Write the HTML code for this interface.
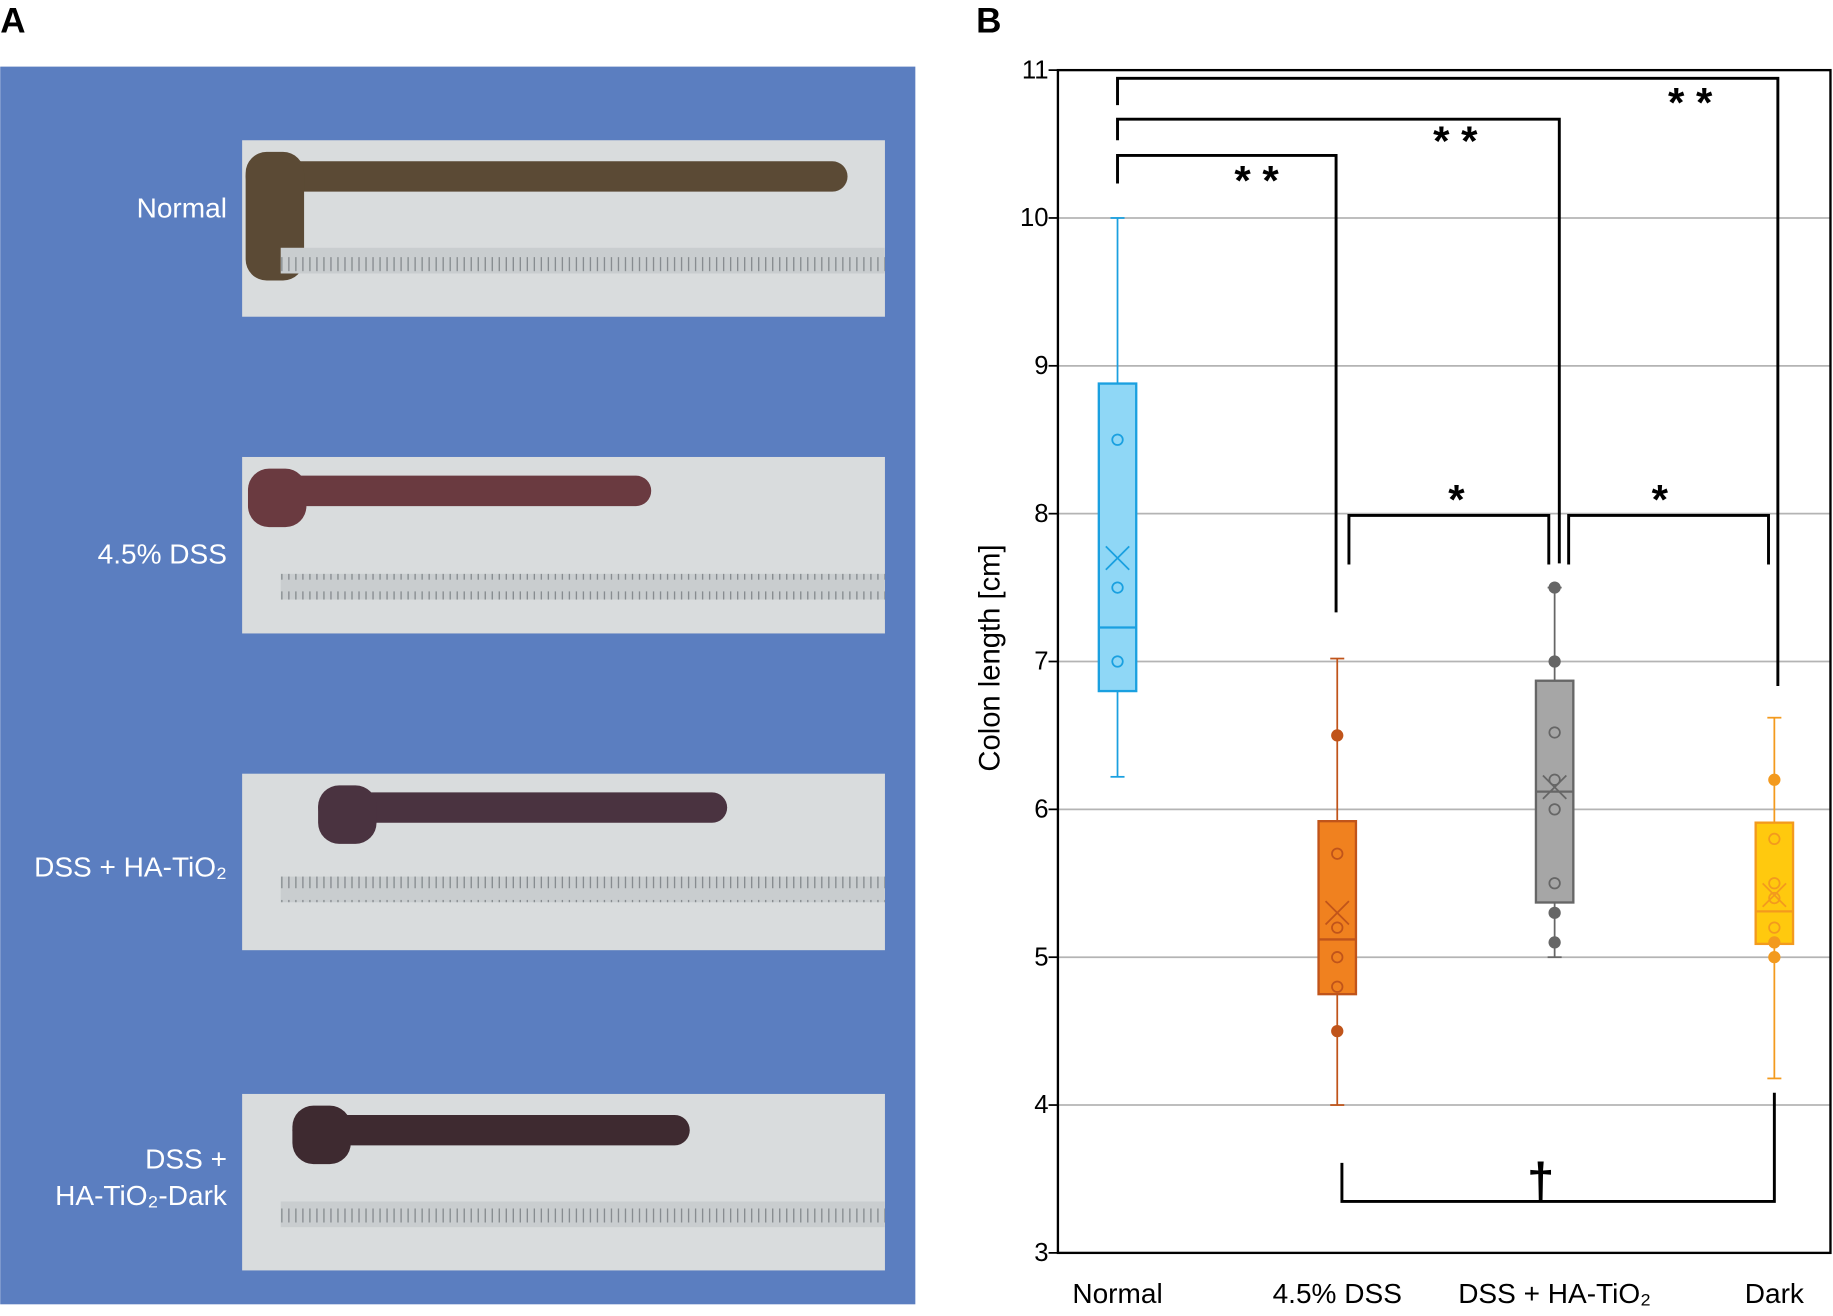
<!DOCTYPE html>
<html><head><meta charset="utf-8"><style>
html,body{margin:0;padding:0;background:#fff}
svg{display:block}
text{font-family:"Liberation Sans",sans-serif}
</style></head><body>
<svg id="fig" width="1833" height="1316" viewBox="0 0 1568 1126">
<defs>
<pattern id="ticks" width="6" height="22" patternUnits="userSpaceOnUse"><rect width="6" height="22" fill="#c9cdcf"/><line x1="1" y1="0" x2="1" y2="12" stroke="#7d8286" stroke-width="1"/></pattern>
</defs>
<text x="0" y="28" font-size="30" font-weight="bold">A</text>
<text x="835" y="28" font-size="30" font-weight="bold">B</text>
<g>
<rect x="0" y="57" width="783" height="1059" fill="#5b7ec0"/>
<g id="photos"></g>
</g>
<g id="chart"></g>
</svg>
<script>
const categories=["Normal","4.5% DSS","DSS + HA-TiO2","Dark"];
const whiskerLow=[6.22,4.0,5.0,4.18];
const whiskerHigh=[10.0,7.02,7.5,6.62];
const q1=[6.8,4.75,5.37,5.09];
const q3=[8.88,5.92,6.87,5.91];
const medians=[7.23,5.12,6.12,5.31];
const means=[7.7,5.3,6.15,5.42];
const pointsNormal=[8.5,7.5,7.0];
const pointsDSS=[6.5,5.7,5.2,5.0,4.8,4.5];
const pointsHA=[7.5,7.0,6.52,6.2,6.0,5.5,5.3,5.1];
const pointsDark=[6.2,5.8,5.5,5.4,5.2,5.1,5.0];
const yTicks=[3,4,5,6,7,8,9,10,11];
const NS="http://www.w3.org/2000/svg";
function mk(t,a,p){const e=document.createElementNS(NS,t);for(const k in a)e.setAttribute(k,a[k]);p.appendChild(e);return e;}
// photos
const ph=document.getElementById('photos');
const photoY=[120,391,662,936];
const photoLabels=[["Normal"],["4.5% DSS"],["DSS + HA-TiO₂"],["DSS +","HA-TiO₂-Dark"]];
const labelY=[[186],[482],[750],[1000,1031]];
const tissueX=[210,212,272,250];
const tissueLen=[515,345,350,340];
const tissueCol=["#5b4a35","#6a3a40","#4a3340","#3e2a30"];
photoY.forEach((py,i)=>{
  const r=mk('rect',{x:207,y:py,width:550,height:151,fill:"#d9dcdd"},ph);
  
  
  const tis=mk('rect',{x:tissueX[i],y:py+(i==0?18:i==3?18:16),width:tissueLen[i],height:26,rx:13,fill:tissueCol[i]},ph);
  
  
  const cap=mk('rect',{x:tissueX[i],y:py+10,width:50,height:(i==0?110:50),rx:18,fill:tissueCol[i]},ph);
  
  
  const ru=mk('rect',{x:240,y:py+(i==0?92:i==1?100:i==2?88:92),width:517,height:22,fill:"url(#ticks)"},ph);
  
  
  photoLabels[i].forEach((l,j)=>{
    const t=mk('text',{x:194,y:labelY[i][j],"text-anchor":"end","font-size":24,fill:"#fff"},ph);
    t.textContent=l;
    
    
  });
});
// chart
const ch=document.getElementById('chart');
const X0=905,X1=1566,Ytop=60,Ybot=1072,ymin=3,ymax=11;
const xPos=[956,1144,1330,1518];
const y=v=>Ybot-(v-ymin)/(ymax-ymin)*(Ybot-Ytop);
const x=i=>xPos[i];
yTicks.forEach(t=>{
  if(t>3&&t<11){const g=mk('line',{x1:X0,x2:X1,y1:y(t),y2:y(t),stroke:"#b4b4b4","stroke-width":1.5},ch);
  }
  const tk=mk('line',{x1:X0-8,x2:X0,y1:y(t),y2:y(t),stroke:"#000","stroke-width":1.5},ch);
  
  const tl=mk('text',{x:X0-8,y:y(t)+7,"text-anchor":"end","font-size":22},ch);
  tl.textContent=t;
  
});
const fr=mk('rect',{x:X0,y:Ytop,width:X1-X0,height:Ybot-Ytop,fill:"none",stroke:"#000","stroke-width":2},ch);

const at=mk('text',{x:0,y:0,transform:"translate(855,563) rotate(-90)","text-anchor":"middle","font-size":25},ch);
at.textContent="Colon length [cm]";

const fills=["#8fd7f6","#f0811f","#a6a6a6","#ffc90e"];
const strokes=["#1aa0e0","#c0541a","#666666","#f39a1e"];
const pts=[pointsNormal,pointsDSS,pointsHA,pointsDark];
const filledSets=[[],[6.5,4.5],[7.5,7.0,5.3,5.1],[6.2,5.1,5.0]];
const bw=32;
categories.forEach((c,i)=>{
  const cx=x(i),s=strokes[i];
  const w=mk('line',{x1:cx,x2:cx,y1:y(whiskerLow[i]),y2:y(whiskerHigh[i]),stroke:s,"stroke-width":1.5},ch);
  
  [whiskerLow[i],whiskerHigh[i]].forEach(v=>{const cp=mk('line',{x1:cx-6,x2:cx+6,y1:y(v),y2:y(v),stroke:s,"stroke-width":1.5},ch);
  });
  const b=mk('rect',{x:cx-bw/2,y:y(q3[i]),width:bw,height:y(q1[i])-y(q3[i]),fill:fills[i],stroke:s,"stroke-width":2},ch);
  
  const m=mk('line',{x1:cx-bw/2,x2:cx+bw/2,y1:y(medians[i]),y2:y(medians[i]),stroke:s,"stroke-width":2},ch);
  
  const my=y(means[i]);
  const mm=mk('path',{d:`M${cx-10},${my-10}L${cx+10},${my+10}M${cx-10},${my+10}L${cx+10},${my-10}`,stroke:s,"stroke-width":1.5,fill:"none"},ch);
  
  pts[i].forEach(v=>{
    const f=filledSets[i].includes(v);
    const p=mk('circle',{cx:cx,cy:y(v),r:4.5,fill:f?s:"none",stroke:s,"stroke-width":1.5},ch);
    
  });
  const lbl=mk('text',{x:cx,y:1115,"text-anchor":"middle","font-size":24},ch);
  lbl.textContent=c.replace("TiO2","TiO₂");
  
});
// significance brackets
const brackets=[
 ["M956,90V67H1521V587",1446,100,"* *"],
 ["M956,120V102H1334V482",1245,133,"* *"],
 ["M956,157V133H1143V524",1075,167,"* *"],
 ["M1154,483V441H1325V483",1246,440,"*"],
 ["M1342,483V441H1513V483",1420,440,"*"],
 ["M1148,995V1028H1518V935",1318,1024,"†"]
];
brackets.forEach(b=>{
  const p=mk('path',{d:b[0],fill:"none",stroke:"#000","stroke-width":2.5},ch);
  
  const t=mk('text',{x:b[1],y:b[2],"text-anchor":"middle","font-size":b[3]=="†"?42:36,"font-weight":"bold"},ch);
  t.textContent=b[3];
  
});
</script>
</body></html>
